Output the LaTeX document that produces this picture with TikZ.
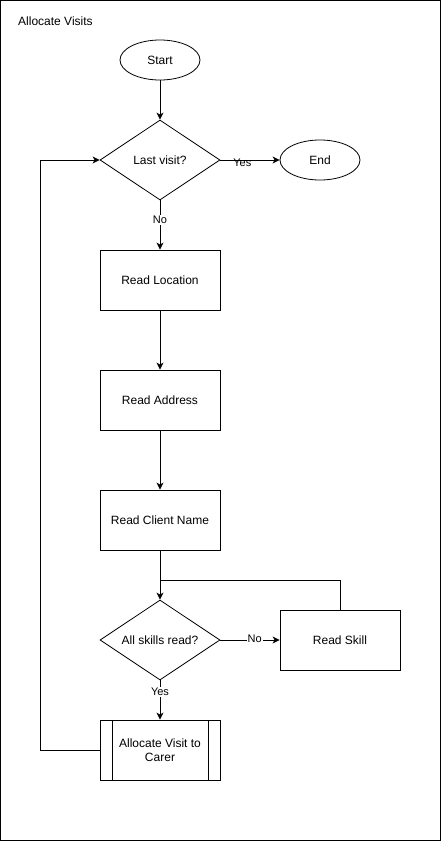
\documentclass[tikz,border=0pt]{standalone}
\usepackage{fontspec}
\setmainfont{Liberation Sans}
\usetikzlibrary{shapes.geometric,arrows.meta}
\begin{document}
\begin{tikzpicture}[x=1pt,y=-1pt,
  every node/.style={font=\fontsize{12pt}{14pt}\selectfont},
  terminal/.style={draw,ellipse,minimum width=80pt,minimum height=40pt,inner sep=0pt,line width=0.8pt},
  decision/.style={draw,diamond,minimum width=120pt,minimum height=80pt,inner sep=0pt,aspect=1.5,line width=0.8pt},
  process/.style={draw,rectangle,minimum width=120pt,minimum height=60pt,inner sep=0pt,line width=0.8pt,align=center},
  lbl/.style={fill=white,inner sep=1pt,font=\fontsize{11pt}{12pt}\selectfont},
  flow/.style={line width=0.8pt,-{Stealth[length=7pt,width=7pt,inset=2pt]}},
  plain/.style={line width=0.8pt}]
\useasboundingbox (0,0) rectangle (441,841);
\draw[line width=1pt] (0.5,0.5) rectangle (440.5,840.5);
\node[anchor=west,inner sep=0pt] (title) at (18,21) {Allocate Visits};
\node[terminal] (start) at (160,60) {Start};
\node[decision] (last) at (160,160) {Last visit?};
\node[terminal] (end) at (320,160) {End};
\node[process] (loc) at (160,280) {Read Location};
\node[process] (addr) at (160,400) {Read Address};
\node[process] (client) at (160,520) {Read Client Name};
\node[decision] (skills) at (160,640) {All skills read?};
\node[process] (skill) at (340,640) {Read Skill};
\node[process] (alloc) at (160,750) {Allocate Visit to\\Carer};
\draw[plain] (112,720) -- (112,780) (208,720) -- (208,780);
\coordinate (join) at (160,580);
\coordinate (loopb) at (40,750);
\coordinate (loopt) at (40,160);
\draw[flow] (start) -- (last);
\draw[flow] (last) -- node[lbl,pos=0.37,yshift=-3pt,fill=none] {Yes} (end);
\draw[flow] (last) -- node[lbl,pos=0.4] {No} (loc);
\draw[flow] (loc) -- (addr);
\draw[flow] (addr) -- (client);
\draw[flow] (client) -- (skills);
\draw[flow] (skills) -- node[lbl,pos=0.58,yshift=1.5pt] {No} (skill);
\draw[plain] (skill.north) -- (skill.north |- join) -- (join);
\draw[flow] (skills) -- node[lbl,pos=0.3] {Yes} (alloc);
\draw[flow] (alloc.west) -- (loopb) -- (loopt) -- (last.west);
\end{tikzpicture}
\end{document}
